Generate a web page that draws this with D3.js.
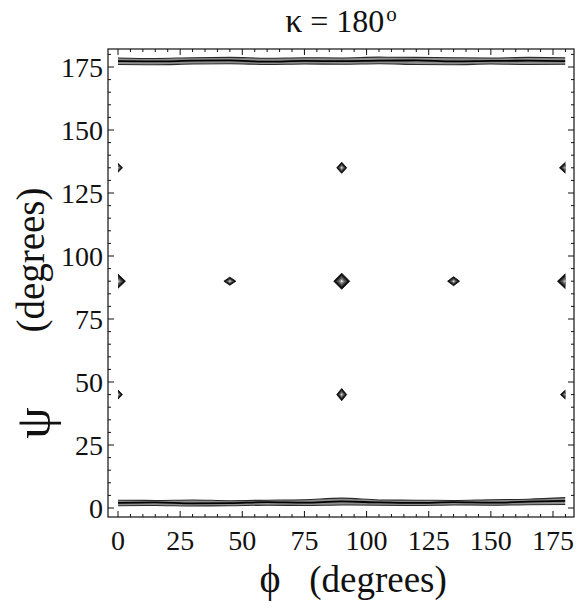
<!DOCTYPE html>
<html>
<head>
<meta charset="utf-8">
<script src="https://cdn.jsdelivr.net/npm/d3@7"></script>
<style>
  body { margin: 0; background: #fff; }
</style>
</head>
<body>
<div id="chart"></div>
<script>
// tick labels on both axes (degrees)
var phiTicks = [0, 25, 50, 75, 100, 125, 150, 175];
var psiTicks = [0, 25, 50, 75, 100, 125, 150, 175];

// peak centres (phi, psi) and their half-spread in degrees
var peakPhi = [0, 0, 0, 45, 90, 90, 90, 135, 180, 180, 180];
var peakPsi = [45, 90, 135, 90, 45, 90, 135, 90, 45, 90, 135];
var peakSpreadPhi = [1.8, 3.0, 1.8, 2.4, 2.0, 3.2, 2.0, 2.4, 2.0, 3.2, 2.4];
var peakSpreadPsi = [1.8, 2.8, 1.8, 1.6, 2.4, 3.2, 2.2, 1.8, 1.8, 3.0, 2.2];

// ridge lines near psi = 0 and psi = 180, sampled along phi
var bandPhi = [0, 15, 30, 45, 60, 75, 90, 105, 120, 135, 150, 165, 180];
var lowBandA = [0.9, 1.0, 0.8, 0.9, 1.1, 1.0, 1.2, 1.1, 1.0, 1.2, 1.1, 1.3, 1.4];
var lowBandB = [2.0, 2.2, 1.8, 1.9, 2.3, 2.1, 2.6, 2.2, 2.0, 2.3, 2.1, 2.5, 2.8];
var lowBandC = [3.1, 3.0, 3.2, 2.9, 3.1, 3.3, 3.9, 3.2, 3.1, 3.0, 3.3, 3.5, 4.1];
var highBandA = [176.0, 175.9, 176.2, 176.3, 176.0, 176.2, 176.1, 176.3, 176.0, 175.9, 176.2, 176.0, 176.1];
var highBandB = [177.3, 177.2, 177.5, 177.6, 177.1, 177.4, 177.3, 177.5, 177.6, 177.2, 177.4, 177.5, 177.3];
var highBandC = [178.6, 178.4, 178.7, 178.8, 178.5, 178.7, 178.6, 178.9, 178.8, 178.7, 178.6, 178.8, 178.7];

var width = 578, height = 604;
var serif = 'Liberation Serif';

var svg = d3.select('#chart').append('svg')
    .attr('width', width)
    .attr('height', height);

var x = d3.scaleLinear().domain([0, 175]).range([118, 553]);
var y = d3.scaleLinear().domain([0, 175]).range([508, 67]);

// frame bounds (slightly padded beyond 0..180 like the original)
var x0 = 108, x1 = 574, y0 = 49, y1 = 517;

svg.append('defs').append('clipPath').attr('id', 'plotClip')
  .append('rect')
    .attr('x', x(0)).attr('y', y0)
    .attr('width', x(180) - x(0)).attr('height', y1 - y0);

var plot = svg.append('g').attr('clip-path', 'url(#plotClip)');

// BANDS
var line = d3.line()
  .x(function(d) { return x(d[0]); })
  .y(function(d) { return y(d[1]); })
  .curve(d3.curveMonotoneX);
var area = d3.area()
  .x(function(d) { return x(d[0]); })
  .y0(function(d) { return y(d[1]); })
  .y1(function(d) { return y(d[2]); })
  .curve(d3.curveMonotoneX);

function drawBand(a, b, c) {
  var rows = bandPhi.map(function(p, i) { return [p, a[i], c[i]]; });
  plot.append('path').datum(rows)
    .attr('d', area)
    .attr('fill', '#8c8c8c');
  [a, b, c].forEach(function(arr, k) {
    plot.append('path')
      .datum(bandPhi.map(function(p, i) { return [p, arr[i]]; }))
      .attr('d', line)
      .attr('fill', 'none')
      .attr('stroke', k == 1 ? '#000' : '#2a2a2a')
      .attr('stroke-width', k == 1 ? 1.8 : 1.1);
  });
}
drawBand(lowBandA, lowBandB, lowBandC);
drawBand(highBandA, highBandB, highBandC);

// PEAKS - nested diamond contours
var levels = [1, 0.7, 0.4, 0.15];
var levelFill = ['#111', '#4a4a4a', '#8a8a8a', '#eee'];
peakPhi.forEach(function(p, i) {
  levels.forEach(function(s, k) {
    var dp = peakSpreadPhi[i] * s, dq = peakSpreadPsi[i] * s;
    var pts = [[p - dp, peakPsi[i]], [p, peakPsi[i] + dq], [p + dp, peakPsi[i]], [p, peakPsi[i] - dq]];
    plot.append('path')
      .attr('d', 'M' + pts.map(function(d) { return x(d[0]) + ',' + y(d[1]); }).join('L') + 'Z')
      .attr('fill', levelFill[k])
      .attr('stroke', k == 0 ? '#000' : 'none')
      .attr('stroke-width', 0.8);
  });
});

// FRAME
svg.append('rect')
  .attr('x', x0).attr('y', y0)
  .attr('width', x1 - x0).attr('height', y1 - y0)
  .attr('fill', 'none')
  .attr('stroke', '#111')
  .attr('stroke-width', 1.2);

// inward ticks on all four sides
var minor = d3.range(0, 181, 5);
var ticks = svg.append('g').attr('stroke', '#111').attr('stroke-width', 1);
minor.forEach(function(v) {
  var len = (v % 25 == 0) ? 6 : 3;
  ticks.append('line').attr('x1', x(v)).attr('x2', x(v)).attr('y1', y1).attr('y2', y1 - len);
  ticks.append('line').attr('x1', x(v)).attr('x2', x(v)).attr('y1', y0).attr('y2', y0 + len);
  ticks.append('line').attr('y1', y(v)).attr('y2', y(v)).attr('x1', x0).attr('x2', x0 + len);
  ticks.append('line').attr('y1', y(v)).attr('y2', y(v)).attr('x1', x1).attr('x2', x1 - len);
});

// TICK LABELS
svg.append('g').selectAll('text')
  .data(phiTicks).enter().append('text')
    .attr('x', function(d) { return x(d); })
    .attr('y', 550)
    .attr('text-anchor', 'middle')
    .attr('font-family', serif)
    .attr('font-size', 28)
    .attr('fill', '#111')
    .text(function(d) { return d; });

svg.append('g').selectAll('text')
  .data(psiTicks).enter().append('text')
    .attr('x', 103)
    .attr('y', function(d) { return y(d) + 9.5; })
    .attr('text-anchor', 'end')
    .attr('font-family', serif)
    .attr('font-size', 28)
    .attr('fill', '#111')
    .text(function(d) { return d; });

// TITLE
var title = svg.append('text')
    .attr('x', 341)
    .attr('y', 32)
    .attr('text-anchor', 'middle')
    .attr('font-family', serif)
    .attr('font-size', 32)
    .attr('fill', '#111');
title.append('tspan').attr('font-size', 34).text('\u03BA');
title.append('tspan').attr('dx', 8).text('=');
title.append('tspan').attr('dx', 8).text('180');
title.append('tspan').attr('dx', 2).attr('dy', -11).attr('font-size', 21).text('o');

// AXIS TITLES
svg.append('text')
    .attr('x', 270)
    .attr('y', 592)
    .attr('text-anchor', 'middle')
    .attr('font-family', serif)
    .attr('font-size', 40)
    .attr('fill', '#111')
    .text('\u03D5');
svg.append('text')
    .attr('x', 378)
    .attr('y', 592)
    .attr('text-anchor', 'middle')
    .attr('font-family', serif)
    .attr('font-size', 37)
    .attr('fill', '#111')
    .text('(degrees)');

svg.append('text')
    .attr('transform', 'translate(50,423) rotate(-90)')
    .attr('text-anchor', 'middle')
    .attr('font-family', serif)
    .attr('font-size', 50)
    .attr('fill', '#111')
    .text('\u03C8');
svg.append('text')
    .attr('transform', 'translate(44,260) rotate(-90)')
    .attr('text-anchor', 'middle')
    .attr('font-family', serif)
    .attr('font-size', 39)
    .attr('fill', '#111')
    .text('(degrees)');
</script>
</body>
</html>
